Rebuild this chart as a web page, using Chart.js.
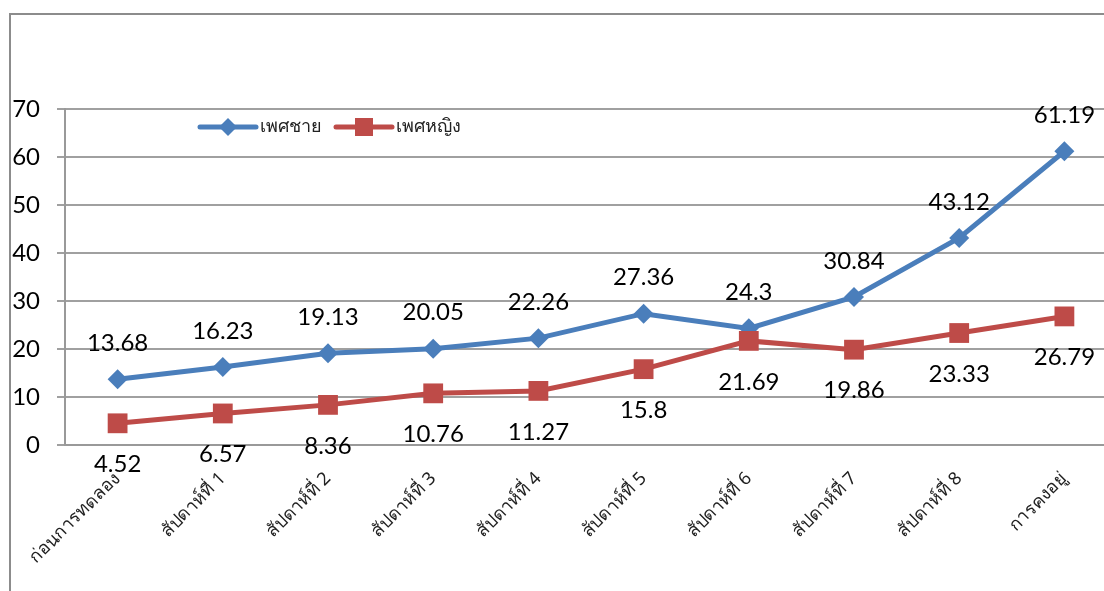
<!DOCTYPE html>
<html>
<head>
<meta charset="utf-8">
<script src="https://cdn.jsdelivr.net/npm/chart.js@4.4.0/dist/chart.umd.min.js"></script>
<style>
  html, body { margin: 0; padding: 0; background: #fff; overflow: hidden; }
  #wrap { position: relative; width: 1104px; height: 591px; overflow: hidden; background: #fff; }
  #frame { position: absolute; left: 9px; top: 13px; width: 1200px; height: 700px;
           border-top: 2px solid #8c8c8c; border-left: 2px solid #8c8c8c; }
  #box { position: absolute; left: 0; top: 0; width: 1131px; height: 591px; }
</style>
</head>
<body>
<div id="wrap">
  <div id="frame"></div>
  <div id="box"><canvas id="myChart"></canvas></div>
</div>
<script>
const categorias = ["ก่อนการทดลอง", "สัปดาห์ที่ 1", "สัปดาห์ที่ 2", "สัปดาห์ที่ 3", "สัปดาห์ที่ 4",
  "สัปดาห์ที่ 5", "สัปดาห์ที่ 6", "สัปดาห์ที่ 7", "สัปดาห์ที่ 8", "การคงอยู่"];
const chayValues = [13.68, 16.23, 19.13, 20.05, 22.26, 27.36, 24.3, 30.84, 43.12, 61.19];
const yingValues = [4.52, 6.57, 8.36, 10.76, 11.27, 15.8, 21.69, 19.86, 23.33, 26.79];
const yTicks = [0, 10, 20, 30, 40, 50, 60, 70];

const numFont = "Lato, 'Open Sans', sans-serif";
const thaiFont = "'Noto Sans', 'DejaVu Sans', sans-serif";
const azul = "#4A7EBB";
const rojo = "#BE4B48";

// etiquetas de datos: azul arriba, rojo abajo
const etiquetas = {
  id: "etiquetas",
  afterDatasetsDraw(chart) {
    const ctx = chart.ctx;
    ctx.save();
    ctx.font = "24px " + numFont;
    ctx.fillStyle = "#000";
    ctx.textAlign = "center";
    ctx.textBaseline = "middle";
    chart.data.datasets.forEach((ds, i) => {
      const meta = chart.getDatasetMeta(i);
      meta.data.forEach((pt, j) => {
        const dy = ds.label === "เพศชาย" ? -36 : 41;
        ctx.fillText(String(ds.data[j]), pt.x, pt.y + dy);
      });
    });
    ctx.restore();
  }
};

// leyenda dentro del area
const leyenda = {
  id: "leyenda",
  afterDraw(chart) {
    const ctx = chart.ctx;
    const items = [
      { text: "เพศชาย", color: azul, x: 200, style: "diamond" },
      { text: "เพศหญิง", color: rojo, x: 336, style: "square" }
    ];
    const y = 127;
    ctx.save();
    items.forEach((it) => {
      ctx.strokeStyle = it.color;
      ctx.lineWidth = 5;
      ctx.lineCap = "round";
      ctx.beginPath();
      ctx.moveTo(it.x, y);
      ctx.lineTo(it.x + 56, y);
      ctx.stroke();
      ctx.fillStyle = it.color;
      const cx = it.x + 28;
      if (it.style === "diamond") {
        ctx.beginPath();
        ctx.moveTo(cx, y - 9);
        ctx.lineTo(cx + 9, y);
        ctx.lineTo(cx, y + 9);
        ctx.lineTo(cx - 9, y);
        ctx.closePath();
        ctx.fill();
      } else {
        ctx.fillRect(cx - 9, y - 9, 18, 18);
      }
      ctx.fillStyle = "#222";
      ctx.font = "18px " + thaiFont;
      ctx.textAlign = "left";
      ctx.textBaseline = "middle";
      ctx.fillText(it.text, it.x + 60, y);
    });
    ctx.restore();
  }
};

const data = {
  labels: categorias,
  datasets: [
    {
      label: "เพศชาย",
      data: chayValues,
      borderColor: azul,
      backgroundColor: azul,
      borderWidth: 5,
      pointStyle: "rectRot",
      pointRadius: 10,
      pointBorderWidth: 0,
      order: 1
    },
    {
      label: "เพศหญิง",
      data: yingValues,
      borderColor: rojo,
      backgroundColor: rojo,
      borderWidth: 5,
      pointStyle: "rect",
      pointRadius: 14,
      pointBorderWidth: 0,
      order: 0
    }
  ]
};

const config = {
  type: "line",
  data,
  plugins: [etiquetas, leyenda],
  options: {
    responsive: true,
    maintainAspectRatio: false,
    animation: false,
    layout: { padding: { top: 109, left: 0, right: 0, bottom: 0 } },
    plugins: { legend: { display: false }, tooltip: { enabled: false } },
    scales: {
      x: {
        offset: true,
        grid: { display: false },
        border: { display: true, color: "#999", width: 2 },
        afterFit: (s) => { s.height = 146; },
        ticks: {
          color: "#222",
          font: { family: thaiFont, size: 18 },
          maxRotation: 45,
          minRotation: 45,
          padding: 15,
          autoSkip: false
        }
      },
      y: {
        min: 0,
        max: 70,
        afterFit: (s) => { s.width = 65; },
        afterBuildTicks: (s) => { s.ticks = yTicks.map((v) => ({ value: v })); },
        grid: { color: "#a0a0a0", lineWidth: 2, tickLength: 8 },
        border: { display: true, color: "#999", width: 2 },
        ticks: {
          color: "#000",
          font: { family: numFont, size: 24 },
          padding: 17
        }
      }
    }
  }
};

const myChart = document.getElementById("myChart");
new Chart(myChart, config);
</script>
</body>
</html>
